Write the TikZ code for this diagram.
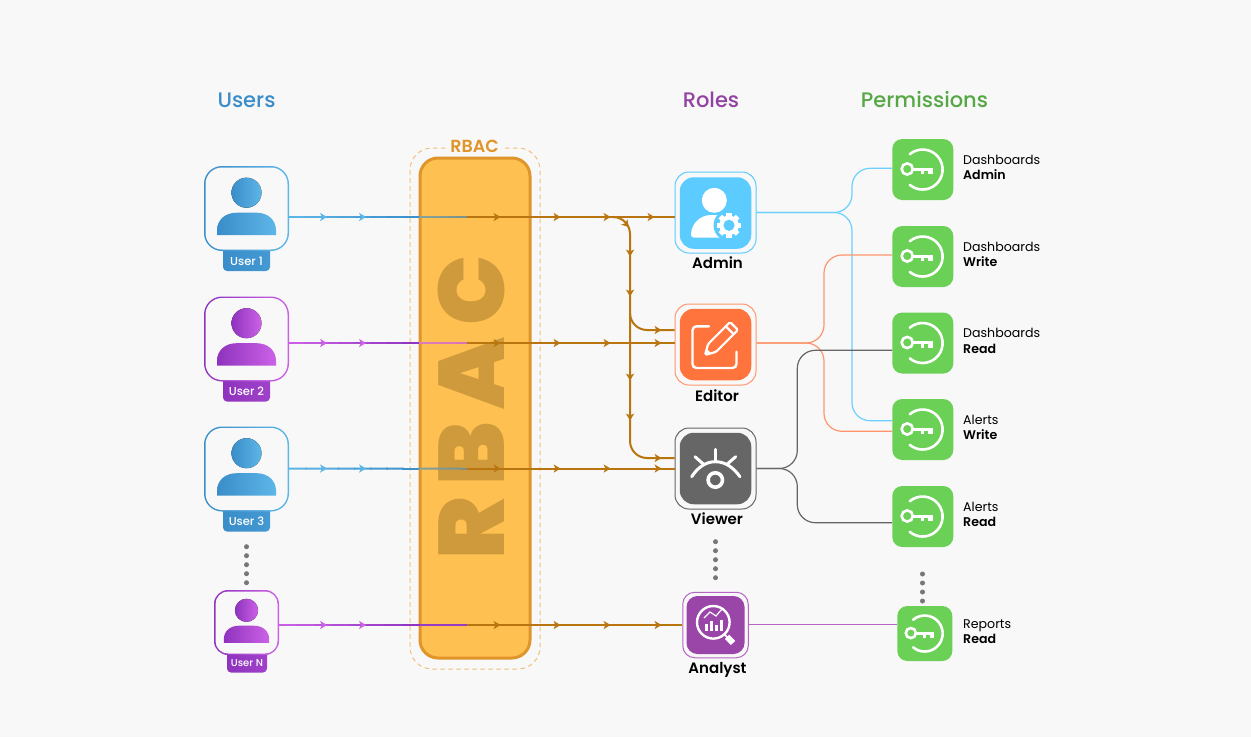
\documentclass[tikz,border=0pt]{standalone}
\usepackage{fontspec}
\setmainfont{Poppins}[BoldFont={Poppins SemiBold}]
\newfontfamily\popmed{Poppins Medium}
\newfontfamily\popblack{Poppins Black}
\usetikzlibrary{calc,arrows.meta}
\definecolor{bgc}{HTML}{F8F8F8}
\definecolor{bluea}{HTML}{3A8DC9}
\definecolor{blueb}{HTML}{5DB6E8}
\definecolor{purpa}{HTML}{8E33BE}
\definecolor{purpb}{HTML}{CC62E6}
\definecolor{brown}{HTML}{B9750F}
\definecolor{rbacfill}{HTML}{FFC052}
\definecolor{rbacline}{HTML}{E0952A}
\definecolor{rbacdash}{HTML}{F2C07E}
\definecolor{rbactext}{HTML}{CF9A3C}
\definecolor{admc}{HTML}{5CCBFF}
\definecolor{edc}{HTML}{FF733C}
\definecolor{viewc}{HTML}{666666}
\definecolor{anac}{HTML}{9A45A8}
\definecolor{anal}{HTML}{B566C4}
\definecolor{permc}{HTML}{6BD056}
\definecolor{dotc}{HTML}{777777}
\tikzset{
  x=1pt,y=-1pt,
  brline/.style={draw=brown,line width=2pt},
  linkline/.style={line width=1.2pt,rounded corners=18pt},
  outerbox/.style={minimum size=#1,inner sep=0pt,rounded corners=14pt,line width=1pt,fill=bgc},
  innerbox/.style={minimum size=#1,inner sep=0pt,rounded corners=14pt},
  permbox/.style={fill=permc,minimum size=#1,inner sep=0pt,rounded corners=10pt},
  title/.style={font=\popmed\fontsize{21}{24}\selectfont,inner sep=0pt},
  rolename/.style={font=\bfseries\fontsize{15}{18}\selectfont,inner sep=0pt},
  permtxt/.style={font=\fontsize{12.6}{15.4}\selectfont,align=left,anchor=west,inner sep=0pt},
  badgetxt/.style={font=\popmed\fontsize{11.5}{13}\selectfont,text=white,inner sep=0pt},
  hd/.pic={\fill (3.5,0)--(-3.5,-4.2)--(-1.6,0)--(-3.5,4.2)--cycle;},
  keyicon/.pic={
    \begin{scope}[y=1pt,white,line width=2.6pt,line cap=round]
      \draw (-13,15.3) arc[start angle=130,end angle=-130,radius=20];
      \draw (-15.5,0.5) circle[radius=5.6];
      \draw[line cap=butt,line width=3pt] (-9.5,0.5) -- (10,0.5);
      \fill (-1.5,0.5) rectangle (1.5,-4.5);
      \fill (5.5,0.5) rectangle (10,-4.5);
    \end{scope}
  },
  person/.pic={
    \begin{scope}[y=1pt]
      \fill[left color=\ca,right color=\cb] (0,15.8) circle[radius=15];
      \path[left color=\ca,right color=\cb] (-29.5,-26.5) -- (-29.5,-22) .. controls (-29.5,-11) and (-21,-4.2) .. (-10,-4.2) -- (10,-4.2) .. controls (21,-4.2) and (29.5,-11) .. (29.5,-22) -- (29.5,-26.5) -- cycle;
    \end{scope}
  },
}
\newcommand\gline[4]{%
  \foreach \i in {0,...,7}{%
    \pgfmathsetmacro\ta{\i/8}%
    \pgfmathsetmacro\tb{min(1,(\i+1.1)/8)}%
    \pgfmathtruncatemacro\pc{100*(\i+.5)/8}%
    \draw[line width=2pt,color={#4!\pc!#3}] ($(#1)!\ta!(#2)$) -- ($(#1)!\tb!(#2)$);%
  }}
\begin{document}
\begin{tikzpicture}
\useasboundingbox[fill=bgc] (0,0) rectangle (1251,737);

% titles
\node[title,text=bluea] (tu) at (246.5,100) {Users};
\node[title,text=anac!95!black] (tr) at (711,100) {Roles};
\node[title,text=permc!80!black] (tp) at (924.5,100) {Permissions};

% RBAC
\draw[rbacdash,dashed,dash pattern=on 4.5pt off 3.5pt,line width=1pt,rounded corners=22pt] (410,148) rectangle (540,669);
\node[fill=bgc,inner xsep=3pt,inner ysep=0pt,text=rbacline,font=\bfseries\fontsize{17.5}{20}\selectfont] (rbl) at (474.5,146) {RBAC};
\node[draw=rbacline,fill=rbacfill,line width=3pt,rounded corners=18pt,minimum width=110pt,minimum height=500pt,inner sep=0pt] (rbac) at (475,408) {};
\node[rotate=90,inner sep=0pt,text=rbactext,font=\popblack\fontsize{93}{93}\selectfont] (bigt) at (471.5,407.5) {R\kern12pt B\kern12pt A\kern12pt C};

% users
\foreach \nm/\cy/\cka/\ckb/\tx in {u1/208.5/bluea/blueb/User 1,u2/339/purpa/purpb/User 2,u3/469/bluea/blueb/User 3}{
  \def\ca{\cka}\def\cb{\ckb}
  \path[left color=\cka,right color=\cka!70!\ckb,rounded corners=4pt] (223,\cy+20) rectangle (270,\cy+62.5);
  \node[left color=\cka,right color=\ckb,minimum size=85pt,inner sep=0pt,rounded corners=18pt] (\nm) at (246.5,\cy) {};
  \node[fill=bgc,minimum size=82pt,inner sep=0pt,rounded corners=16.5pt] (\nm i) at (246.5,\cy) {};
  \pic at (246.5,\cy) {person};
  \node[badgetxt] (\nm b) at (246.5,\cy+52.5) {\tx};
}
\def\ca{purpa}\def\cb{purpb}
\path[left color=purpa,right color=purpa!70!purpb,rounded corners=4pt] (227,640) rectangle (267,672.5);
\node[left color=purpa,right color=purpb,minimum size=65pt,inner sep=0pt,rounded corners=14pt] (u4) at (246.5,622.5) {};
\node[fill=bgc,minimum size=62pt,inner sep=0pt,rounded corners=12.5pt] (u4i) at (246.5,622.5) {};
\pic[scale=.77] at (246.5,622.5) {person};
\node[badgetxt,font=\popmed\fontsize{10}{12}\selectfont] (u4b) at (247,663.5) {User N};

% dots
\foreach \yy in {546.7,555.7,564.7,573.7,582.7} \fill[dotc] (246.5,\yy) circle[radius=2.5];
\foreach \yy in {541.7,550.7,559.7,568.7,577.7} \fill[dotc] (715.5,\yy) circle[radius=2.5];
\foreach \yy in {574,583,592,601} \fill[dotc] (922.5,\yy) circle[radius=2.5];

% roles
\node[outerbox=81pt,draw=admc] (admin) at (715.5,212.5) {};
\node[innerbox=71.5pt,fill=admc] (admini) at (715.5,213) {};
\node[outerbox=81pt,draw=edc!75] (editor) at (715.5,344.5) {};
\node[innerbox=71.5pt,fill=edc] (editori) at (715.5,344.5) {};
\node[outerbox=81pt,draw=viewc] (viewer) at (715.5,468.5) {};
\node[innerbox=71.5pt,fill=viewc] (vieweri) at (715.5,468.5) {};
\node[outerbox=65.5pt,draw=anal,rounded corners=12pt] (analyst) at (715.5,625) {};
\node[innerbox=58pt,fill=anac,rounded corners=11pt] (analysti) at (715.5,625) {};
\node[rolename] (adminl) at (717.5,263) {Admin};
\node[rolename] (editorl) at (717,396) {Editor};
\node[rolename] (viewerl) at (717,519) {Viewer};
\node[rolename] (analystl) at (717.5,670) {Analyst};

% admin icon
\fill[white] (714.3,200.3) circle[radius=12.5];
\fill[white,rounded corners=3pt] (691,237.7) .. controls (691,224) and (700,215) .. (714,215) .. controls (728,215) and (735,224) .. (735,237.7) -- cycle;
\fill[admc] (729,225.3) circle[radius=15.5];
\foreach \ang in {0,45,...,315}{
  \fill[white,shift={(729,225.3)},rotate=\ang] (-2.6,-12.3) rectangle (2.6,0);
}
\fill[white] (729,225.3) circle[radius=9.8];
\fill[admc] (729,225.3) circle[radius=5.6];

% editor icon
\draw[white,line width=2.4pt,rounded corners=4pt,line cap=round] (709,326.3) -- (692.5,326.3) -- (692.5,368) -- (736.5,368) -- (736.5,351.7);
\begin{scope}[shift={(705,355)},rotate=45,y=1pt]
  \draw[white,line width=2.2pt,line join=round,rounded corners=1.5pt] (0,0) -- (10,5.6) -- (41,5.6) -- (41,-5.6) -- (10,-5.6) -- cycle;
  \draw[white,line width=2.2pt] (35,-5.6) -- (35,5.6);
  \fill[white] (0,0) -- (5.5,3) -- (5.5,-3) -- cycle;
\end{scope}

% viewer icon
\draw[white,line width=3pt,line cap=round] (691.7,476.7) .. controls (698,467) and (706,461.7) .. (715.3,461.7) .. controls (725,461.7) and (733,467) .. (740,476.7);
\draw[white,line width=3pt,line cap=round] (715.3,449.3) -- (715.3,461);
\draw[white,line width=3pt,line cap=round] (695,456.7) -- (703.3,464);
\draw[white,line width=3pt,line cap=round] (735.7,456.7) -- (727.3,464);
\draw[white,line width=3.6pt] (715.3,480) circle[radius=7.2];

% analyst icon
\draw[white,line width=2.4pt] (713.3,622.3) circle[radius=16.3];
\draw[white,line width=1.5pt] (724.5,634.5) -- (728,638);
\draw[white,line width=6pt] (727,636.8) -- (733,643);
\foreach \bx/\by in {705/619,710/616,715/620,720/615}{
  \fill[white] (\bx,\by+5) rectangle (\bx+3.4,630.5);
}
\draw[white,line width=1.2pt] (704,618) -- (710,612) -- (716,616) -- (722,609);

% permissions
\foreach \nm/\cy/\la/\lb in {p1/169.5/Dashboards/Admin,p2/256.5/Dashboards/Write,p3/343/Dashboards/Read,p4/429.5/Alerts/Write,p5/516.5/Alerts/Read}{
  \node[permbox=61pt] (\nm) at (922.75,\cy) {};
  \pic at (922.75,\cy) {keyicon};
  \node[permtxt] (\nm t) at (963,\cy-2) {\la\\\textbf{\lb}};
}
\node[permbox=55pt] (p6) at (924.8,633.5) {};
\pic[scale=.9] at (924.8,633.5) {keyicon};
\node[permtxt] (p6t) at (963,631.5) {Reports\\\textbf{Read}};

% connectors right
\draw[linkline,draw=admc!90] (admin.east) -- (852,212.5) -- (852,168.3) -- (p1.west |- 0,168.3);
\draw[linkline,draw=admc!90] (admin.east) -- (852,212.5) -- (852,420.7) -- (p4.west |- 0,420.7);
\draw[linkline,draw=edc!75] (editor.east |- 0,343) -- (824,343) -- (824,255) -- (p2.west |- 0,255);
\draw[linkline,draw=edc!75] (editor.east |- 0,343) -- (824,343) -- (824,431.3) -- (p4.west |- 0,431.3);
\draw[linkline,draw=viewc] (viewer.east) -- (797.3,468.5) -- (797.3,350.3) -- (p3.west |- 0,350.3);
\draw[linkline,draw=viewc] (viewer.east) -- (797.3,468.5) -- (797.3,522.7) -- (p5.west |- 0,522.7);
\draw[line width=1.2pt,draw=anal] (analyst.east |- 0,624.5) -- (p6.west |- 0,624.5);

% user connectors
\foreach \nm/\yy/\ka/\kb/\kc/\kd/\ke in {
  u1/217/blueb/bluea/bluea/{rbacfill!40!bluea}/{brown!50!rbacfill},
  u2/343/purpb/purpa/purpa/{rbacfill!30!purpb}/{rbacfill!40!edc},
  u3/468.5/blueb/bluea/bluea/{rbacfill!40!bluea}/{rbacfill!40!brown}}{
  \coordinate (\nm o) at (\nm.east |- 0,\yy);
  \coordinate (\nm w) at (rbac.west |- 0,\yy);
  \coordinate (\nm m) at (467,\yy);
  \gline{\nm o}{\nm w}{\ka}{\kb}
  \gline{\nm w}{\nm m}{\kd}{\ke}
}
\coordinate (u4o) at (u4.east |- 0,625);
\coordinate (u4w) at (rbac.west |- 0,625);
\coordinate (u4m) at (467,625);
\gline{u4o}{u4w}{purpb}{purpa}
\draw[line width=2pt,color=purpa!85!purpb] (u4w) -- (u4m);
\foreach \yy in {217,343,468.5,625}{
  \fill[blue,opacity=0] (0,\yy);
}
\foreach \yy/\cc in {217/blueb,343/purpb,468.5/blueb,625/purpb}{
  \pic[color=\cc!80!black,fill=\cc] at (323.5,\yy) {hd};
  \pic[color=\cc,fill=\cc] at (362.5,\yy) {hd};
}

% brown connectors
\draw[brline] (u1m) -- (admin.west |- u1m);
\draw[brline] (u2m) -- (editor.west |- u2m);
\draw[brline] (u3m) -- (viewer.west |- u3m);
\draw[brline] (u4m) -- (analyst.west |- u4m);
\draw[brline,rounded corners=17pt] (613,217) -- (630,217) -- (630,458) -- (viewer.west |- 0,458);
\draw[brline,rounded corners=17pt] (630,313) -- (630,330) -- (editor.west |- 0,330);
\begin{scope}[color=brown,fill=brown]
\foreach \yy in {217,343,468.5,625}{
  \foreach \xx in {497,557,607}{ \pic[fill=brown] at (\xx,\yy) {hd}; }
}
\foreach \xx/\yy in {651/217,658/330,658/343,658/458,658/468.5,658/625}{ \pic[fill=brown] at (\xx,\yy) {hd}; }
\foreach \yy in {253,293,377,417}{ \pic[fill=brown,rotate=-90] at (630,\yy) {hd}; }
\pic[fill=brown,rotate=-50] at (626.5,224.5) {hd};
\end{scope}
\end{tikzpicture}
\end{document}
